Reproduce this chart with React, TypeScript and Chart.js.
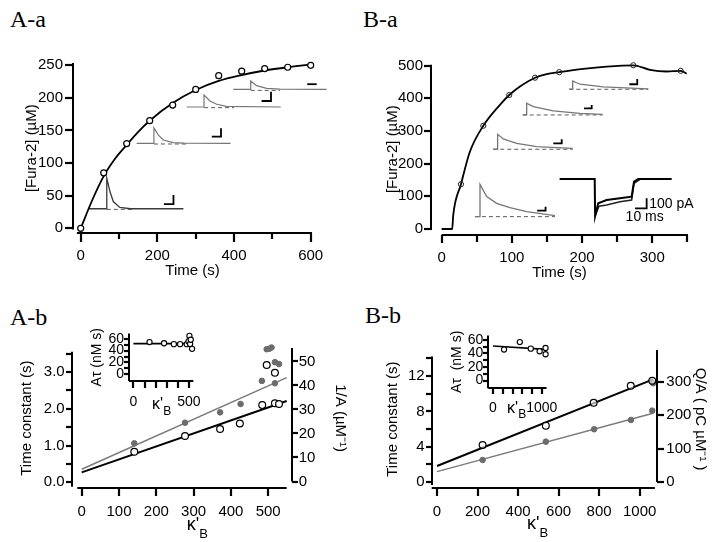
import React, { useEffect, useRef } from 'react';
import { Chart, registerables } from 'chart.js';

Chart.register(...registerables);

const FONT = "'Liberation Sans', Arial, Helvetica, sans-serif";
const SERIF = "'Liberation Serif', 'Times New Roman', serif";
const BLACK = '#000000';
const GRAY = '#6c6c6c';
const GRAY_LINE = '#7a7a7a';
const TRACE = '#767676';

// ---------------- A-a : [Fura-2] vs time ----------------
const aaTime = [0, 60, 120, 180, 240, 300, 360, 420, 480, 540, 600];
const aaFura = [0, 85, 130, 165, 189, 213, 234, 241, 245, 247, 250];
const aaFitTime = [0, 30, 60, 90, 120, 150, 180, 240, 300, 360, 420, 480, 540, 600];
const aaFitFura = [0, 43, 80, 107, 128, 148, 165, 192, 212, 226, 235, 242, 247, 251];
const aaXTicks = [0, 100, 200, 300, 400, 500, 600];
const aaXLabels = [0, 200, 400, 600];
const aaYTicks = [0, 50, 100, 150, 200, 250];
// small current traces drawn inside A-a (values in the panel's own units)
const aaTrace1 = [[20, 30], [68, 30], [68, 77], [76.5, 56], [85, 41], [102, 32], [130, 30], [268, 30]];
const aaTrace2 = [[146, 130.3], [191, 130.3], [191, 154], [202.6, 143], [215.6, 135.4], [241.6, 131.5], [270, 130.6], [391, 130.3]];
const aaTrace3 = [[276.5, 186], [321.7, 186], [321.7, 204.4], [337.3, 195.2], [354.8, 190.2], [380, 187], [521.7, 186]];
const aaTrace4 = [[398, 213], [443.5, 213], [443.5, 226], [459, 218.8], [485, 214.7], [520, 213.5], [641.7, 213]];
const aaBase1 = [[68, 29], [140, 29]];
const aaBase2 = [[191, 129.3], [280, 129.3]];
const aaBase3 = [[321.7, 185], [400, 185]];
const aaBase4 = [[443.5, 211.5], [520, 211.5]];
const aaBar1 = [[217, 37], [242, 37], [242, 51]];
const aaBar2 = [[342, 140.5], [366, 140.5], [366, 153.4]];
const aaBar3 = [[472, 195.2], [496.5, 195.2], [496.5, 209.5]];
const aaBar4 = [[591, 221], [615.6, 221], [615.6, 234]];

// ---------------- B-a ----------------
const baTime = [0, 15, 16.5, 27.5, 40.3, 59.3, 83, 96.3, 111.5, 133, 149.6, 167.5, 201.7, 235, 273, 296.7, 320.5, 340.5, 349];
const baFura = [0, 0, 43, 137, 237, 316, 380, 410, 436, 463, 474, 480, 490, 497, 501, 487, 482, 484, 475];
const baCircTime = [27.5, 59.3, 96.3, 133, 167.5, 273, 340.5];
const baCircFura = [137, 316, 410, 463, 480, 501, 484];
const baXTicks = [0, 50, 100, 150, 200, 250, 300, 350];
const baXLabels = [0, 100, 200, 300];
const baYTicks = [0, 100, 200, 300, 400, 500];
const baTraceA = [[47.4, 37.8], [54.6, 37.8], [54.6, 136.6], [64.1, 99], [78.3, 78.6], [97.3, 65.3], [121, 53], [161.4, 41]];
const baTraceB = [[73.5, 244], [79.7, 244], [79.7, 289.8], [87.8, 275.5], [106.8, 262.3], [135.3, 252], [186.6, 247]];
const baTraceC = [[115.4, 349], [121.1, 349], [121.1, 384.7], [130.5, 374.4], [159, 361.2], [197, 354.1], [229.3, 351]];
const baTraceD = [[181.8, 427.6], [186.6, 427.6], [186.6, 453], [197, 443], [230.2, 434.7], [294.3, 429]];
const baBaseA = [[47.4, 37.8], [161.4, 37.8]];
const baBaseB = [[73.5, 244], [186.6, 244]];
const baBaseC = [[115.4, 349], [229.3, 349]];
const baBaseD = [[181.8, 427.6], [294.3, 427.6]];
const baBarA = [[136, 56], [148, 56], [148, 68.3]];
const baBarB = [[159, 262.3], [171, 262.3], [171, 274.5]];
const baBarC = [[202.7, 369.4], [213.7, 369.4], [213.7, 379.6]];
const baBarD = [[267.3, 443], [278.6, 443], [278.6, 459]];
const baCurrent1 = [[168, 153], [218, 153], [218.6, 39.8], [223, 78.6], [235, 88.8], [254, 94], [270.6, 99], [274, 144.8], [280, 153], [327.6, 153]];
const baCurrent2 = [[218.6, 39.8], [224, 70], [235, 73.5], [254, 83.6], [270.6, 88.8], [274, 140], [282, 151]];
const baCurrentBar = [[275.4, 63.4], [292, 63.4], [292, 94]];

// ---------------- A-b ----------------
const abKappaTau = [141, 277, 371, 424, 484, 496, 518, 518, 529];
const abTau = [0.83, 1.26, 1.45, 1.6, 2.1, 3.19, 2.98, 2.15, 2.13];
const abKappaInvA = [141, 277, 371, 426, 483, 496, 503, 509, 518, 529, 518];
const abInvA = [15.9, 24.5, 28.8, 32.3, 41.9, 55.1, 55.3, 55.8, 49.7, 48.9, 40.9];
const abFitKappa = [0, 549.6];
const abFitTau = [0.27, 2.21];
const abFitInvA = [5.1, 43.25];
const abXTicks = [0, 100, 200, 300, 400, 500];
const abYTicks = [0, 0.5, 1, 1.5, 2, 2.5, 3, 3.5];
const abYLabels = [0, 1, 2, 3];
const abY2Ticks = [0, 10, 20, 30, 40, 50];
// inset
const abInKappa = [145, 276, 364, 420, 480, 496, 504, 510, 516, 528];
const abInAtau = [54.5, 52.5, 51, 51, 51, 55.6, 65, 51.3, 58.4, 43];
const abInFitKappa = [0, 533];
const abInFitAtau = [51.8, 51.8];
const abInXTicks = [0, 100, 200, 300, 400, 500];
const abInXLabels = [0, 500];

// ---------------- B-b ----------------
const bbKappaTau = [225, 537, 773, 956, 1062];
const bbTau = [4.19, 6.38, 8.98, 10.9, 11.47];
const bbKappaQA = [225, 537, 775, 957, 1062, 1066];
const bbQA = [65.9, 120.7, 157.8, 185.6, 213.5, 295.5];
const bbFitKappa = [0, 1066];
const bbFitTau = [1.81, 11.63];
const bbFitQA = [30.8, 205.7];
const bbXTicks = [0, 200, 400, 600, 800, 1000];
const bbYTicks = [0, 2, 4, 6, 8, 10, 12, 14];
const bbYLabels = [0, 4, 8, 12];
const bbY2Ticks = [0, 100, 200, 300];
// inset
const bbInKappa = [226, 549, 774, 955, 1077, 1077];
const bbInAtau = [45.7, 56.8, 47.1, 43.2, 48, 38.8];
const bbInFitKappa = [0, 1083];
const bbInFitAtau = [51, 46];
const bbInXTicks = [0, 200, 400, 600, 800, 1000];
const bbInXLabels = [0, 1000];
const inYTicks = [0, 10, 20, 30, 40, 50, 60];
const inYLabels = [0, 20, 40, 60];

// ---------------- helpers ----------------
const pts = (xs: number[], ys: number[]) => xs.map((x, i) => ({ x, y: ys[i] }));
const pairs = (p: number[][]) => p.map(([x, y]) => ({ x, y }));

function markers(data: any[], yAxisID: string, r: number, fill: string, stroke: string, bw: number) {
  return {
    type: 'scatter', data, xAxisID: 'x', yAxisID, showLine: false,
    pointRadius: r, pointHoverRadius: r, pointBackgroundColor: fill, pointBorderColor: stroke,
    pointBorderWidth: bw, clip: false,
  };
}
function line(data: any[], yAxisID: string, color: string, width: number, extra: any = {}) {
  return {
    type: 'scatter', data, xAxisID: 'x', yAxisID, showLine: true, borderColor: color,
    borderWidth: width, pointRadius: 0, pointHoverRadius: 0, fill: false, clip: false, tension: 0,
    ...extra,
  };
}

type AxisSpec = {
  id: string; position: string; min: number; max: number; ticks: number[]; labels: number[];
  fmt?: (v: number) => string; size: number; tl: number; minorTl?: number; pad: number; fs: number;
  title?: string; titlePad?: any; lineFrom: number; lineTo: number;
};

const isLabel = (s: AxisSpec, v: number) => s.labels.some((l) => Math.abs(l - v) < 1e-9);

function scaleFromSpec(s: AxisSpec) {
  const f = s.fmt || ((v: number) => String(v));
  return {
    type: 'linear', position: s.position, min: s.min, max: s.max,
    afterBuildTicks: (sc: any) => { sc.ticks = s.ticks.map((v) => ({ value: v })); },
    afterFit: (sc: any) => { if (s.position === 'bottom') sc.height = s.size; else sc.width = s.size; },
    grid: { display: false, drawOnChartArea: false, drawTicks: false, tickLength: 0 },
    border: { display: false },
    ticks: {
      autoSkip: false, maxRotation: 0, minRotation: 0, padding: s.tl + s.pad, color: BLACK,
      font: { family: FONT, size: s.fs },
      callback: (v: number) => (isLabel(s, v) ? f(v) : ''),
    },
    title: s.title
      ? { display: true, text: s.title, color: BLACK, font: { family: FONT, size: s.fs }, padding: s.titlePad }
      : { display: false },
  };
}

type SubTitle = { main: string; sub: string; xVal: number; dy: number; size: number; subSize: number; subDy: number };
type Note = { text: string; x: number; y: number; size: number };

// axis lines and tick marks (pixel positions come from the chart's scales) and subscripted titles
function decor(specs: AxisSpec[], subs: SubTitle[] = [], notes: Note[] = []) {
  return {
    id: 'decor',
    afterDraw(chart: any) {
      const { ctx, chartArea, scales } = chart;
      ctx.save();
      ctx.setLineDash([]);
      ctx.globalAlpha = 1;
      ctx.lineCap = 'butt';
      ctx.strokeStyle = BLACK;
      for (const s of specs) {
        const sc = scales[s.id];
        const edgeX = Math.round(s.position === 'left' ? chartArea.left : chartArea.right);
        const edgeY = Math.round(chartArea.bottom);
        ctx.lineWidth = 2.2;
        for (const v of s.ticks) {
          const len = isLabel(s, v) ? s.tl : (s.minorTl ?? s.tl);
          const p = Math.round(sc.getPixelForValue(v));
          ctx.beginPath();
          if (s.position === 'bottom') {
            ctx.moveTo(p, edgeY);
            ctx.lineTo(p, edgeY + len + 1);
          } else if (s.position === 'left') {
            ctx.moveTo(edgeX, p);
            ctx.lineTo(edgeX - len - 1, p);
          } else {
            ctx.moveTo(edgeX, p);
            ctx.lineTo(edgeX + len + 1, p);
          }
          ctx.stroke();
        }
        ctx.lineWidth = 2;
        const a = sc.getPixelForValue(s.lineFrom);
        const b = sc.getPixelForValue(s.lineTo);
        ctx.beginPath();
        if (s.position === 'bottom') {
          ctx.moveTo(a, edgeY);
          ctx.lineTo(b, edgeY);
        } else {
          ctx.moveTo(edgeX, a);
          ctx.lineTo(edgeX, b);
        }
        ctx.stroke();
      }
      ctx.fillStyle = BLACK;
      ctx.textBaseline = 'middle';
      ctx.textAlign = 'left';
      for (const t of subs) {
        ctx.font = `${t.size}px ${FONT}`;
        const w1 = ctx.measureText(t.main).width;
        ctx.font = `${t.subSize}px ${FONT}`;
        const w2 = ctx.measureText(t.sub).width;
        const x0 = scales.x.getPixelForValue(t.xVal) - (w1 + w2) / 2;
        const y0 = chartArea.bottom + t.dy;
        ctx.font = `${t.size}px ${FONT}`;
        ctx.fillText(t.main, x0, y0);
        ctx.font = `${t.subSize}px ${FONT}`;
        ctx.fillText(t.sub, x0 + w1, y0 + t.subDy);
      }
      for (const n of notes) {
        ctx.font = `${n.size}px ${FONT}`;
        ctx.fillText(n.text, scales.x.getPixelForValue(n.x), scales.y.getPixelForValue(n.y));
      }
      ctx.restore();
    },
  };
}

function build(datasets: any[], padding: any, specs: AxisSpec[], subs: SubTitle[] = [], notes: Note[] = []) {
  const scales: any = {};
  specs.forEach((s) => { scales[s.id] = scaleFromSpec(s); });
  return {
    type: 'scatter',
    data: { datasets },
    options: {
      animation: false, responsive: false, maintainAspectRatio: false, events: [],
      layout: { padding },
      plugins: { legend: { display: false }, tooltip: { enabled: false }, title: { display: false } },
      scales,
    },
    plugins: [decor(specs, subs, notes)],
  };
}

// ---------------- chart configs ----------------
function configAa() {
  const tr = (d: number[][], c: string, w: number) => line(pairs(d), 'y', c, w);
  const dash = (d: number[][]) => line(pairs(d), 'y', '#5a5a5a', 1, { borderDash: [4, 3] });
  const bar = (d: number[][]) => line(pairs(d), 'y', BLACK, 1.8);
  return build(
    [
      markers(pts(aaTime, aaFura), 'y', 3, '#ffffff', BLACK, 1.2),
      line(pts(aaFitTime, aaFitFura), 'y', BLACK, 1.8, { cubicInterpolationMode: 'monotone' }),
      bar(aaBar1), bar(aaBar2), bar(aaBar3), bar(aaBar4),
      tr(aaTrace1, '#3a3a3a', 1.3), tr(aaTrace2, TRACE, 1.2), tr(aaTrace3, TRACE, 1.2), tr(aaTrace4, TRACE, 1.2),
      dash(aaBase1), dash(aaBase2), dash(aaBase3), dash(aaBase4),
    ],
    { left: 0, right: 48, top: 23, bottom: 0 },
    [
      { id: 'x', position: 'bottom', min: -20.1, max: 603.4, ticks: aaXTicks, labels: aaXLabels, size: 46.7, tl: 8, minorTl: 5, pad: 6, fs: 15, title: 'Time (s)', titlePad: { top: 0, bottom: 0 }, lineFrom: -10, lineTo: 603.4 },
      { id: 'y', position: 'left', min: -7.67, max: 253.5, ticks: aaYTicks, labels: aaYTicks, size: 73, tl: 7, pad: 3, fs: 15, title: '[Fura-2] (µM)', titlePad: { top: 23, bottom: 0 }, lineFrom: -2, lineTo: 253.5 },
    ],
  );
}

function configBa() {
  const tr = (d: number[][]) => line(pairs(d), 'y', TRACE, 1.3);
  const dash = (d: number[][]) => line(pairs(d), 'y', '#5a5a5a', 1, { borderDash: [4, 3] });
  const bar = (d: number[][]) => line(pairs(d), 'y', BLACK, 1.8);
  return build(
    [
      markers(pts(baCircTime, baCircFura), 'y', 2.6, 'rgba(255,255,255,0)', '#222222', 1),
      line(pts(baTime, baFura), 'y', BLACK, 1.8, { cubicInterpolationMode: 'monotone' }),
      bar(baBarA), bar(baBarB), bar(baBarC), bar(baBarD), bar(baCurrentBar),
      line(pairs(baCurrent1), 'y', BLACK, 2),
      line(pairs(baCurrent2), 'y', '#222222', 1.6),
      tr(baTraceA), tr(baTraceB), tr(baTraceC), tr(baTraceD),
      dash(baBaseA), dash(baBaseB), dash(baBaseC), dash(baBaseD),
    ],
    { left: 0, right: 32, top: 23, bottom: 0 },
    [
      { id: 'x', position: 'bottom', min: -15.2, max: 350.9, ticks: baXTicks, labels: baXLabels, size: 44.7, tl: 7, minorTl: 6, pad: 7, fs: 15, title: 'Time (s)', titlePad: { top: 0, bottom: -2 }, lineFrom: 0, lineTo: 350.9 },
      { id: 'y', position: 'left', min: -19.3, max: 508, ticks: baYTicks, labels: baYTicks, size: 71, tl: 6, pad: 2, fs: 15, title: '[Fura-2] (µM)', titlePad: { top: 24.3, bottom: 0 }, lineFrom: -3, lineTo: 503 },
    ],
    [],
    [
      { text: '100 pA', x: 295.7, y: 77, size: 14 },
      { text: '10 ms', x: 262, y: 35, size: 14 },
    ],
  );
}

function configAb() {
  return build(
    [
      markers(pts(abKappaTau, abTau), 'y', 3.4, '#ffffff', BLACK, 1.2),
      markers(pts(abKappaInvA, abInvA), 'y2', 2.8, GRAY, GRAY, 1),
      line(pts(abFitKappa, abFitTau), 'y', BLACK, 2),
      line(pts(abFitKappa, abFitInvA), 'y2', GRAY_LINE, 1.4),
    ],
    { left: 0, right: 8.3, top: 58, bottom: 0 },
    [
      { id: 'x', position: 'bottom', min: -26.8, max: 563, ticks: abXTicks, labels: abXTicks, size: 53.7, tl: 7, pad: 8, fs: 15, lineFrom: -11.8, lineTo: 549.6 },
      { id: 'y', position: 'left', min: -0.163, max: 3.653, ticks: abYTicks, labels: abYLabels, fmt: (v: number) => v.toFixed(1), size: 71.7, tl: 5, minorTl: 5, pad: 2, fs: 15, title: 'Time constant (s)', titlePad: { top: 17.7, bottom: 0 }, lineFrom: -0.12, lineTo: 3.55 },
      { id: 'y2', position: 'right', min: -2.83, max: 55.6, ticks: abY2Ticks, labels: abY2Ticks, size: 60, tl: 5, pad: 2, fs: 15, title: '1/A (µM⁻¹)', titlePad: { top: 2.7, bottom: 0 }, lineFrom: 0, lineTo: 55.6 },
    ],
    [{ main: 'κ\'', sub: 'B', xVal: 310, dy: 37, size: 18, subSize: 13, subDy: 9 }],
  );
}

function configBb() {
  return build(
    [
      markers(pts(bbKappaTau, bbTau), 'y', 3.4, 'rgba(255,255,255,0.6)', BLACK, 1.2),
      markers(pts(bbKappaQA, bbQA), 'y2', 2.8, GRAY, GRAY, 1),
      line(pts(bbFitKappa, bbFitTau), 'y', BLACK, 2),
      line(pts(bbFitKappa, bbFitQA), 'y2', GRAY_LINE, 1.4),
    ],
    { left: 0, right: 7.7, top: 60, bottom: 0 },
    [
      { id: 'x', position: 'bottom', min: -26.2, max: 1087, ticks: bbXTicks, labels: bbXTicks, size: 53.7, tl: 7, pad: 8, fs: 15, lineFrom: -26.2, lineTo: 1075 },
      { id: 'y', position: 'left', min: -0.713, max: 14.95, ticks: bbYTicks, labels: bbYLabels, size: 71.7, tl: 5, minorTl: 5, pad: 2, fs: 15, title: 'Time constant (s)', titlePad: { top: 24.3, bottom: 0 }, lineFrom: -0.34, lineTo: 14.2 },
      { id: 'y2', position: 'right', min: -18.9, max: 395, ticks: bbY2Ticks, labels: bbY2Ticks, size: 55, tl: 6, pad: 3, fs: 15, title: 'Q/A ( pC µM⁻¹ )', titlePad: { top: 3.3, bottom: 0 }, lineFrom: 0, lineTo: 395 },
    ],
    [{ main: 'κ\'', sub: 'B', xVal: 496, dy: 36, size: 18, subSize: 13, subDy: 9 }],
  );
}

function configAbInset() {
  return build(
    [
      markers(pts(abInKappa, abInAtau), 'y', 2.6, '#ffffff', BLACK, 1.1),
      line(pts(abInFitKappa, abInFitAtau), 'y', BLACK, 1.6),
    ],
    { left: 0, right: 20, top: 11.7, bottom: 0 },
    [
      { id: 'x', position: 'bottom', min: -39.5, max: 539, ticks: abInXTicks, labels: abInXLabels, size: 39, tl: 6, minorTl: 6, pad: 7, fs: 14, lineFrom: -39.5, lineTo: 539 },
      { id: 'y', position: 'left', min: -11.5, max: 69.2, ticks: inYTicks, labels: inYLabels, size: 49, tl: 4, minorTl: 4, pad: 1, fs: 14, title: 'Aτ (nM s)', titlePad: { top: 8.3, bottom: 0 }, lineFrom: -11.5, lineTo: 69.2 },
    ],
    [{ main: 'κ\'', sub: 'B', xVal: 254, dy: 24, size: 16, subSize: 12, subDy: 7 }],
  );
}

function configBbInset() {
  return build(
    [
      markers(pts(bbInKappa, bbInAtau), 'y', 2.6, '#ffffff', BLACK, 1.1),
      line(pts(bbInFitKappa, bbInFitAtau), 'y', BLACK, 1.6),
    ],
    { left: 0, right: 20, top: 13, bottom: 0 },
    [
      { id: 'x', position: 'bottom', min: -96.7, max: 1097, ticks: bbInXTicks, labels: bbInXLabels, size: 33.7, tl: 5, minorTl: 5, pad: 6, fs: 14, lineFrom: -96.7, lineTo: 1097 },
      { id: 'y', position: 'left', min: -11.4, max: 66.6, ticks: inYTicks, labels: inYLabels, size: 58.3, tl: 4, minorTl: 4, pad: 1, fs: 14, title: 'Aτ  (nM s)', titlePad: { top: 18.3, bottom: 0 }, lineFrom: -11.4, lineTo: 66.6 },
    ],
    [{ main: 'κ\'', sub: 'B', xVal: 484, dy: 20, size: 16, subSize: 12, subDy: 6 }],
  );
}

// ---------------- components ----------------
function Panel({ left, top, width, height, make }: { left: number; top: number; width: number; height: number; make: () => any }) {
  const ref = useRef<HTMLCanvasElement | null>(null);
  useEffect(() => {
    const chart = new Chart(ref.current as HTMLCanvasElement, make());
    return () => chart.destroy();
  }, []);
  return (
    <div style={{ position: 'absolute', left, top, width, height }}>
      <canvas ref={ref} width={width} height={height} style={{ display: 'block', width, height }} />
    </div>
  );
}

function PanelLabel({ text, left, top }: { text: string; left: number; top: number }) {
  return (
    <div style={{ position: 'absolute', left, top, fontFamily: SERIF, fontSize: 24, lineHeight: 1, color: BLACK, whiteSpace: 'nowrap' }}>
      {text}
    </div>
  );
}

export default function App() {
  return (
    <div style={{ position: 'fixed', left: 0, top: 0, width: 720, height: 542, background: '#ffffff', overflow: 'hidden' }}>
      <PanelLabel text="A-a" left={10} top={7} />
      <PanelLabel text="B-a" left={363} top={7} />
      <PanelLabel text="A-b" left={10} top={305} />
      <PanelLabel text="B-b" left={365} top={303} />
      <Panel left={0} top={40} width={360} height={240} make={configAa} />
      <Panel left={360} top={40} width={360} height={240} make={configBa} />
      <Panel left={0} top={290} width={360} height={252} make={configAb} />
      <Panel left={360} top={290} width={360} height={252} make={configBb} />
      <Panel left={80} top={320} width={135} height={100} make={configAbInset} />
      <Panel left={430} top={322} width={140} height={100} make={configBbInset} />
    </div>
  );
}
